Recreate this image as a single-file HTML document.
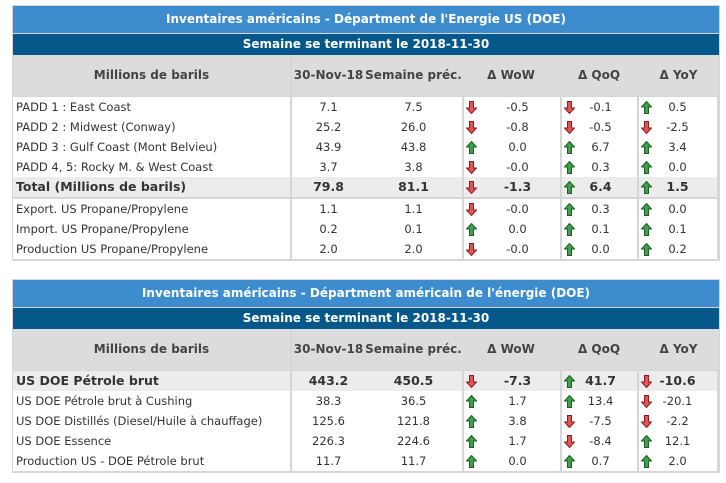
<!DOCTYPE html>
<html><head><meta charset="utf-8">
<style>
body{margin:0;width:726px;height:483px;background:#fff;font-family:"DejaVu Sans","Liberation Sans",sans-serif;font-size:11.5px;color:#333;position:relative;overflow:hidden}
.abs{position:absolute;box-sizing:border-box}
.title{background:#3d8dce;color:#fff;text-align:center;font-weight:bold;font-size:12px}
.sub{background:#07588a;color:#fff;text-align:center;font-weight:bold;font-size:12px}
.hdr{background:#dcdcdc;font-weight:bold;color:#444;text-align:center;font-size:12px}
.cell{background:#fff;white-space:nowrap}
.bold{font-weight:bold;font-size:12.5px;background:#ececec}
.c{text-align:center}
</style></head><body>
<div id="root"></div>
<script>
const t1Labels=["PADD 1 : East Coast","PADD 2 : Midwest (Conway)","PADD 3 : Gulf Coast (Mont Belvieu)","PADD 4, 5: Rocky M. & West Coast","Total (Millions de barils)","Export. US Propane/Propylene","Import. US Propane/Propylene","Production US Propane/Propylene"];
const t1Cur=["7.1","25.2","43.9","3.7","79.8","1.1","0.2","2.0"];
const t1Prev=["7.5","26.0","43.8","3.8","81.1","1.1","0.1","2.0"];
const t1WoW=["-0.5","-0.8","0.0","-0.0","-1.3","-0.0","0.0","-0.0"];
const t1QoQ=["-0.1","-0.5","6.7","0.3","6.4","0.3","0.1","0.0"];
const t1YoY=["0.5","-2.5","3.4","0.0","1.5","0.0","0.1","0.2"];
const t2Labels=["US DOE Pétrole brut","US DOE Pétrole brut à Cushing","US DOE Distillés (Diesel/Huile à chauffage)","US DOE Essence","Production US - DOE Pétrole brut"];
const t2Cur=["443.2","38.3","125.6","226.3","11.7"];
const t2Prev=["450.5","36.5","121.8","224.6","11.7"];
const t2WoW=["-7.3","1.7","3.8","1.7","0.0"];
const t2QoQ=["41.7","13.4","-7.5","-8.4","0.7"];
const t2YoY=["-10.6","-20.1","-2.2","12.1","2.0"];

const root=document.getElementById('root');
function box(cls,x,y,w,h,text,name){
  const d=document.createElement('div');
  d.className='abs '+cls;
  d.style.left=x+'px';d.style.top=y+'px';d.style.width=w+'px';d.style.height=h+'px';d.style.lineHeight=h+'px';
  if(text!==undefined)d.textContent=text;
  
  
  root.appendChild(d);return d;
}
function arrow(x,y,up,name){
  const s=document.createElementNS('http://www.w3.org/2000/svg','svg');
  s.setAttribute('width','11');s.setAttribute('height','13');
  s.style.position='absolute';s.style.left=x+'px';s.style.top=y+'px';
  const p=document.createElementNS('http://www.w3.org/2000/svg','polygon');
  p.setAttribute('points',up?'5.5,0.5 10.5,6 7.5,6 7.5,12.5 3.5,12.5 3.5,6 0.5,6':'5.5,12.5 10.5,7 7.5,7 7.5,0.5 3.5,0.5 3.5,7 0.5,7');
  p.setAttribute('fill',up?'#3f9f4a':'#e25555');
  p.setAttribute('stroke',up?'#1d5e25':'#8a1e1e');p.setAttribute('stroke-width','1');
  s.appendChild(p);
  
  
  root.appendChild(s);
}
function isUp(v){return !v.startsWith('-');}
function table(y0,title,labels,cur,prev,wow,qoq,yoy,boldIdx,sepAfter,tag){
  const rowsY=y0+92;
  const n=labels.length;
  const h=92+n*20+(sepAfter>=0?2:0)+2;
  const frame=box('',12,y0,708,h,undefined,tag+'-frame');frame.style.background='#d6d6d6';
  box('title',13,y0+1,706,27,title,tag+'-title');
  box('sub',13,y0+29,706,21,'Semaine se terminant le 2018-11-30',tag+'-subtitle');
  box('hdr',13,y0+50,277,41,'Millions de barils',tag+'-header-label');
  box('hdr',292,y0+50,73,41,'30-Nov-18',tag+'-header-current');
  box('hdr',365,y0+50,97,41,'Semaine préc.',tag+'-header-previous');
  box('hdr',462,y0+50,98,41,'Δ WoW',tag+'-header-wow');
  box('hdr',560,y0+50,78,41,'Δ QoQ',tag+'-header-qoq');
  box('hdr',638,y0+50,81,41,'Δ YoY',tag+'-header-yoy');
  let y=rowsY;
  for(let i=0;i<n;i++){
    const b=i===boldIdx?' bold':'';
    const l=box('cell'+b,13,y,277,20,labels[i],tag+'-row-label');l.style.paddingLeft='3px';
    box('cell c'+b,292,y,73,20,cur[i],tag+'-current-value');
    box('cell c'+b,365,y,97,20,prev[i],tag+'-previous-value');
    const w=box('cell'+b,464,y,96,20,undefined,tag+'-wow-cell');
    box('c'+b,490,y,55,20,wow[i],tag+'-wow-value').style.background='transparent';
    arrow(466,y+4,isUp(wow[i]),tag+'-wow-arrow');
    box('cell'+b,562,y,75,20,undefined,tag+'-qoq-cell');
    box('c'+b,578,y,45,20,qoq[i],tag+'-qoq-value').style.background='transparent';
    arrow(564,y+4,isUp(qoq[i]),tag+'-qoq-arrow');
    box('cell'+b,639,y,78,20,undefined,tag+'-yoy-cell');
    box('c'+b,655,y,45,20,yoy[i],tag+'-yoy-value').style.background='transparent';
    arrow(641,y+4,isUp(yoy[i]),tag+'-yoy-arrow');
    y+=20;
    if(i===sepAfter)y+=2;
  }
}
table(5,"Inventaires américains - Départment de l'Energie US (DOE)",t1Labels,t1Cur,t1Prev,t1WoW,t1QoQ,t1YoY,4,4,'propane-table');
table(279,"Inventaires américains - Départment américain de l'énergie (DOE)",t2Labels,t2Cur,t2Prev,t2WoW,t2QoQ,t2YoY,0,-1,'crude-table');
</script>
</body></html>
